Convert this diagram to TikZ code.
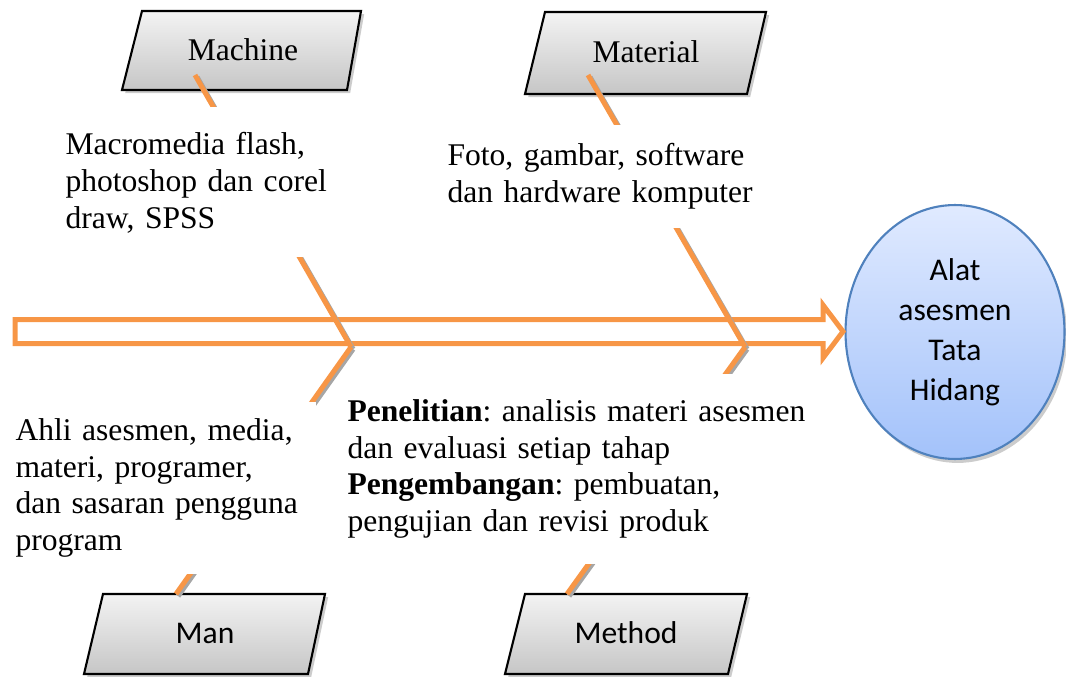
\documentclass[tikz,border=0pt]{standalone}
\usepackage{fontspec}
\setmainfont{Liberation Serif}
\newfontfamily\calfont{Carlito}
\usepackage{tikz}
\usetikzlibrary{shapes.geometric,shadows}
\definecolor{fishorange}{RGB}{247,150,70}
\definecolor{boxtop}{RGB}{243,243,243}
\definecolor{boxbot}{RGB}{198,198,198}
\definecolor{ovaltop}{RGB}{224,234,255}
\definecolor{ovalbot}{RGB}{163,194,250}
\definecolor{ovalline}{RGB}{79,129,189}
\newcommand{\sz}{\fontsize{12pt}{14pt}\selectfont\frenchspacing}

\begin{document}
\begin{tikzpicture}[x=0.38pt,y=-0.38pt,
    spine/.style={draw=fishorange,line width=1.9pt,line join=miter},
    bone/.style={draw=fishorange,line width=1.9pt,
      preaction={draw=black!35,line width=1.9pt,transform canvas={shift={(0.8pt,-0.8pt)}}}},
    catbox/.style={top color=boxtop,bottom color=boxbot,draw=black,line width=0.8pt,
      drop shadow={shadow xshift=1.2pt,shadow yshift=-1.2pt,opacity=0.4}},
    note/.style={fill=white,inner sep=0pt,anchor=west,align=left,font=\sz}]
    \useasboundingbox (0,0) rectangle (1066,677);

    % effect
    \node[ellipse,draw=ovalline,line width=0.8pt,top color=ovaltop,bottom color=ovalbot,
      minimum width=83.2pt,minimum height=96.5pt,inner sep=0pt,align=center,
      drop shadow={shadow xshift=1pt,shadow yshift=-1.5pt,opacity=0.4},
      font=\calfont\fontsize{12pt}{15.2pt}\selectfont] (alat) at (955,332)
      {Alat\\ asesmen\\ Tata\\ Hidang};

    % spine
    \draw[spine] (15,319.5) -- (823,319.5) -- (823,305) -- (843,331.5)
      -- (823,358) -- (823,343.5) -- (15,343.5) -- cycle;

    % categories
    \path[catbox] (142,11) -- (361,11) -- (347,90) -- (122,90) -- cycle;
    \node[font=\sz] (mach) at (243,50) {Machine};
    \path[catbox] (545,12) -- (766,12) -- (747,94) -- (525,94) -- cycle;
    \node[font=\sz] (matl) at (646,52) {Material};
    \path[catbox] (103,594) -- (325,594) -- (308,674) -- (84,674) -- cycle;
    \node[font=\calfont\fontsize{12pt}{14pt}\selectfont] (man) at (205,633) {Man};
    \path[catbox] (525,594) -- (747,594) -- (728,674) -- (505,674) -- cycle;
    \node[font=\calfont\fontsize{12pt}{14pt}\selectfont] (meth) at (626,633) {Method};

    % bones
    \coordinate (j1) at (351,347);
    \coordinate (j2) at (745,347);
    \coordinate (mach-e) at (195,75);
    \coordinate (matl-e) at (588,75);
    \coordinate (man-e) at (176,594);
    \coordinate (meth-e) at (567,594);
    \draw[bone] (mach-e) -- (j1);
    \draw[bone] (matl-e) -- (j2);
    \draw[bone] (j1) -- (man-e);
    \draw[bone] (j2) -- (meth-e);

    % causes
    \node[note,text width=106pt,minimum height=57pt] (machtxt) at (65,182.5)
      {Macromedia flash,\\ photoshop dan corel\\ draw, SPSS};
    \node[note,text width=118pt,minimum height=39.5pt] (matltxt) at (447,176.5)
      {Foto, gambar, software\\ dan hardware komputer};
    \node[note,text width=114pt,minimum height=65.7pt] (mantxt) at (15,488)
      {Ahli asesmen, media,\\ materi, programer,\\ dan sasaran pengguna\\ program};
    \node[note,text width=180pt,minimum height=72pt] (methtxt) at (347,469)
      {\textbf{Penelitian}: analisis materi asesmen\\ dan evaluasi setiap tahap\\
       \textbf{Pengembangan}: pembuatan,\\ pengujian dan revisi produk};
\end{tikzpicture}
\end{document}
